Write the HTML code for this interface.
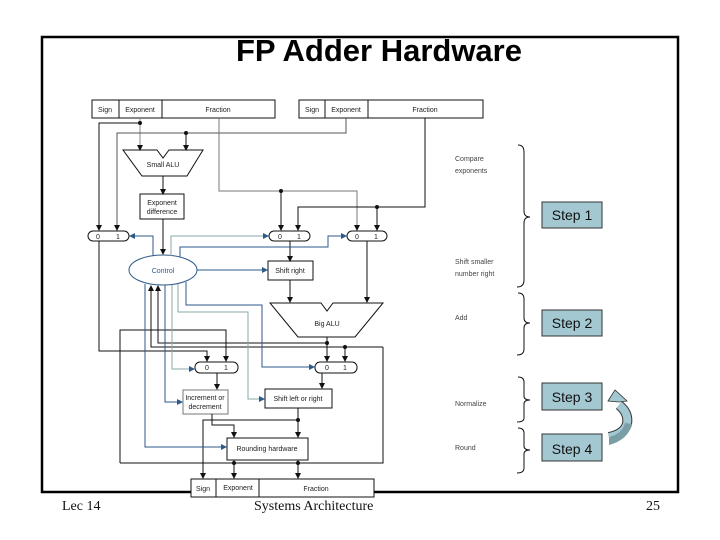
<!DOCTYPE html>
<html><head><meta charset="utf-8"><style>
html,body{margin:0;padding:0;background:#fff}
svg{display:block}
.t{font-family:"Liberation Sans",sans-serif}
</style></head><body>
<svg width="720" height="540" viewBox="0 0 720 540" xmlns="http://www.w3.org/2000/svg">
<defs>
<marker id="a" markerWidth="6" markerHeight="6" refX="5" refY="3" orient="auto" markerUnits="userSpaceOnUse"><path d="M0,0 L6,3 L0,6z" fill="#111"/></marker>
<marker id="b" markerWidth="6" markerHeight="6" refX="5" refY="3" orient="auto" markerUnits="userSpaceOnUse"><path d="M0,0 L6,3 L0,6z" fill="#2e5a8a"/></marker>
</defs>
<rect x="42" y="37" width="636" height="455" fill="#fff" stroke="#000" stroke-width="2.5"/>
<text x="379" y="61" class="t" font-size="31" font-weight="bold" text-anchor="middle">FP Adder Hardware</text>

<g fill="none" stroke="#111" stroke-width="1">
<rect x="92" y="100" width="183" height="18" fill="#fff"/><line x1="119" y1="100" x2="119" y2="118"/><line x1="162" y1="100" x2="162" y2="118"/>
<rect x="299" y="100" width="184" height="18" fill="#fff"/><line x1="325" y1="100" x2="325" y2="118"/><line x1="368" y1="100" x2="368" y2="118"/>
<path d="M123,150 L157,150 L163,158 L169,150 L203,150 L187,176 L142,176 Z"/>
<rect x="140" y="194" width="44" height="25"/>
<rect x="88" y="231" width="41" height="10" rx="5"/>
<rect x="269" y="231" width="41" height="10" rx="5"/>
<rect x="347" y="231" width="40" height="10" rx="5"/>
<rect x="268" y="261" width="45" height="19"/>
<path d="M270,303 L321,303 L327,311 L333,303 L383,303 L355,337 L298,337 Z"/>
<rect x="195" y="362" width="43" height="11" rx="5"/>
<rect x="315" y="362" width="42" height="11" rx="5"/>
<rect x="183" y="390" width="45" height="24" stroke="#777"/>
<rect x="265" y="389" width="67" height="19"/>
<rect x="227" y="438" width="81" height="22"/>
<rect x="191" y="479" width="183" height="18" fill="#fff"/><line x1="216" y1="479" x2="216" y2="497"/><line x1="259" y1="479" x2="259" y2="497"/>
<path d="M140,118 L140,150" stroke="#888" marker-end="url(#a)"/>
<path d="M140,123 L99,123 L99,230" marker-end="url(#a)"/>
<path d="M346,118 L346,133 L117,133 L117,230" stroke="#555" marker-end="url(#a)"/>
<path d="M186,133 L186,150" marker-end="url(#a)"/>
<path d="M163,176 L163,194" marker-end="url(#a)"/>
<path d="M219,118 L219,191 L357,191 L357,230" stroke="#777" marker-end="url(#a)"/>
<path d="M281,191 L281,230" marker-end="url(#a)"/>
<path d="M425,118 L425,207 L298,207 L298,230" marker-end="url(#a)"/>
<path d="M377,207 L377,230" marker-end="url(#a)"/>
<path d="M163,219 L163,254" marker-end="url(#a)"/>
<path d="M290,241 L290,261" marker-end="url(#a)"/>
<path d="M290,280 L290,302" marker-end="url(#a)"/>
<path d="M367,241 L367,302" marker-end="url(#a)"/>
<path d="M99,241 L99,351 L207,351 L207,361" marker-end="url(#a)"/>
<path d="M327,337 L327,361" marker-end="url(#a)"/>
<path d="M327,343 L158,343 L158,286" marker-end="url(#a)"/>
<path d="M383,347 L151,347 L151,286" marker-end="url(#a)"/>
<path d="M345,347 L345,361" marker-end="url(#a)"/>
<path d="M120,463 L120,330 L226,330 L226,361" marker-end="url(#a)"/>
<path d="M120,463 L383,463 L383,347"/>
<path d="M217,373 L217,389" marker-end="url(#a)"/>
<path d="M322,373 L322,388" marker-end="url(#a)"/>
<path d="M298,408 L298,437" marker-end="url(#a)"/>
<path d="M298,420 L203,420 L203,478" marker-end="url(#a)"/>
<path d="M212,414 L212,425 L234,425 L234,437" marker-end="url(#a)"/>
<path d="M234,460 L234,478" marker-end="url(#a)"/>
<path d="M298,460 L298,478" marker-end="url(#a)"/>
</g>
<g fill="#111">
<circle cx="140" cy="123" r="2"/><circle cx="186" cy="133" r="2"/><circle cx="281" cy="191" r="2"/><circle cx="377" cy="207" r="2"/>
<circle cx="327" cy="343" r="2"/><circle cx="345" cy="347" r="2"/><circle cx="298" cy="420" r="2"/><circle cx="234" cy="463" r="2"/><circle cx="298" cy="463" r="2"/>
</g>
<ellipse cx="163" cy="270" rx="34" ry="15" fill="#fff" stroke="#2e5a8a" stroke-width="1"/>
<g fill="none" stroke="#2e5a8a" stroke-width="1">
<path d="M153,256 L153,236 L130,236" marker-end="url(#b)"/>
<path d="M171,256 L171,236 L268,236" stroke="#8aa" marker-end="url(#b)"/>
<path d="M180,257 L180,247 L328,247 L328,236 L346,236" marker-end="url(#b)"/>
<path d="M197,270 L267,270" marker-end="url(#b)"/>
<path d="M145,284 L145,447 L226,447" marker-end="url(#b)"/>
<path d="M165,285 L165,402 L182,402" marker-end="url(#b)"/>
<path d="M172,285 L172,369 L194,369" stroke="#8aa" marker-end="url(#b)"/>
<path d="M178,284 L178,312 L248,312 L248,399 L264,399" stroke="#8aa" marker-end="url(#b)"/>
<path d="M186,282 L186,305 L262,305 L262,367 L314,367" marker-end="url(#b)"/>
</g>
<g class="t" font-size="7" fill="#222" text-anchor="middle">
<text x="105" y="112">Sign</text><text x="140" y="112">Exponent</text><text x="218" y="112">Fraction</text>
<text x="312" y="112">Sign</text><text x="346" y="112">Exponent</text><text x="425" y="112">Fraction</text>
<text x="163" y="167">Small ALU</text>
<text x="162" y="205">Exponent</text><text x="162" y="214">difference</text>
<text x="98" y="239">0</text><text x="118" y="239">1</text>
<text x="280" y="239">0</text><text x="299" y="239">1</text>
<text x="357" y="239">0</text><text x="376" y="239">1</text>
<text x="163" y="273" fill="#2e5a8a">Control</text>
<text x="290" y="273">Shift right</text>
<text x="327" y="326">Big ALU</text>
<text x="207" y="370">0</text><text x="226" y="370">1</text>
<text x="327" y="370">0</text><text x="345" y="370">1</text>
<text x="205" y="400">Increment or</text><text x="205" y="409">decrement</text>
<text x="298" y="401">Shift left or right</text>
<text x="267" y="451">Rounding hardware</text>
<text x="203" y="491">Sign</text><text x="238" y="490">Exponent</text><text x="316" y="491">Fraction</text>
</g>
<g class="t" font-size="7" fill="#444">
<text x="455" y="161">Compare</text><text x="455" y="173">exponents</text>
<text x="455" y="264">Shift smaller</text><text x="455" y="276">number right</text>
<text x="455" y="320">Add</text><text x="455" y="406">Normalize</text><text x="455" y="450">Round</text>
</g>
<g fill="none" stroke="#111" stroke-width="1">
<path d="M518,145 Q524,145 524,152 L524,211 Q524,217 530,217 Q524,217 524,223 L524,280 Q524,287 517,287"/>
<path d="M518,293 Q524,293 524,299 L524,318 Q524,323 530,323 Q524,323 524,328 L524,349 Q524,355 517,355"/>
<path d="M518,377 Q524,377 524,382 L524,396 Q524,400 530,400 Q524,400 524,404 L524,418 Q524,422 517,422"/>
<path d="M518,428 Q524,428 524,433 L524,446 Q524,450 530,450 Q524,450 524,454 L524,468 Q524,473 517,473"/>
</g>
<g fill="#a3c8d2" stroke="#333" stroke-width="1">
<rect x="542" y="202" width="60" height="26"/><rect x="542" y="310" width="60" height="26"/>
<rect x="542" y="383" width="60" height="27"/><rect x="542" y="434" width="60" height="27"/>
</g>
<g class="t" font-size="14" fill="#111" text-anchor="middle">
<text x="572" y="220">Step 1</text><text x="572" y="328">Step 2</text><text x="572" y="402">Step 3</text><text x="572" y="454">Step 4</text>
</g>
<path d="M609,437 Q624,434 627,424 Q629,413 619,405" fill="none" stroke="#333" stroke-width="10"/>
<path d="M609,437 Q624,434 627,424 Q629,413 619,405" fill="none" stroke="#a3c8d2" stroke-width="8"/>
<path d="M609,445 Q628,440 632,424 L625,423 Q622,434 609,437 Z" fill="#7a9ea6"/>
<path d="M608,401 L615,390 L627,401 L619,402 Z" fill="#a3c8d2" stroke="#333" stroke-width="0.8"/>
<g font-family="Liberation Serif,serif" font-size="14" fill="#111">
<text x="62" y="510">Lec 14</text><text x="254" y="510">Systems Architecture</text><text x="646" y="510">25</text>
</g>
</svg>
</body></html>
